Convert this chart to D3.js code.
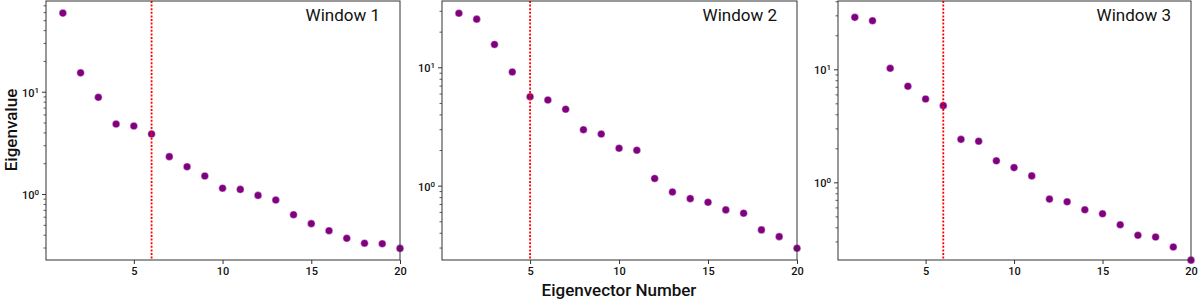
<!DOCTYPE html>
<html>
<head>
<meta charset="utf-8">
<script src="https://cdn.jsdelivr.net/npm/d3@7"></script>
<style>
  body { margin: 0; background: #fff; }
  svg text { font-family: Roboto, "DejaVu Sans", sans-serif; fill: #111; }
</style>
</head>
<body>
<div id="chart"></div>
<script>
// eigenvalue spectra, one array per window
var eigenNumbers = d3.range(1, 21);
var window1 = [58.7, 15.3, 8.82, 4.83, 4.62, 3.86, 2.32, 1.85, 1.50, 1.14,
               1.11, 0.97, 0.873, 0.628, 0.513, 0.438, 0.369, 0.330, 0.327, 0.294];
var window2 = [28.6, 25.5, 15.6, 9.13, 5.64, 5.29, 4.42, 2.97, 2.73, 2.07,
               1.99, 1.15, 0.885, 0.777, 0.724, 0.624, 0.585, 0.423, 0.371, 0.296];
var window3 = [28.8, 26.9, 10.2, 7.08, 5.46, 4.77, 2.40, 2.31, 1.55, 1.35,
               1.14, 0.711, 0.673, 0.572, 0.527, 0.421, 0.340, 0.328, 0.268, 0.205];
var titles = ["Window 1", "Window 2", "Window 3"];
var cutoffs = [6, 5, 6];
var xTicks = [5, 10, 15, 20];
var xDomain = [0.05, 20];
// log10 limits of each panel's y axis
var yLogLimits = [[-0.645, 1.887], [-0.628, 1.560], [-0.687, 1.604]];

var panels = [
  {left: 46, right: 400, values: window1},
  {left: 442, right: 797, values: window2},
  {left: 838, right: 1191, values: window3}
];
var plotTop = 1, plotBottom = 260;

const svg = d3.select("#chart").append("svg")
    .attr("width", 1200).attr("height", 302);

panels.forEach(function(p, i) {
    var x = d3.scaleLinear().domain(xDomain).range([p.left, p.right]);
    var y = d3.scaleLog()
        .domain([Math.pow(10, yLogLimits[i][0]), Math.pow(10, yLogLimits[i][1])])
        .range([plotBottom, plotTop]);

    var g = svg.append("g");

    // minor log ticks
    var minors = [];
    for (var e = -1; e <= 2; e++) {
        for (var m = 2; m <= 9; m++) {
            var v = m * Math.pow(10, e);
            if (v >= y.domain()[0] && v <= y.domain()[1]) minors.push(v);
        }
    }
    g.append("g")
        .attr("transform", "translate(" + p.left + ",0)")
        .call(d3.axisLeft(y).tickValues(minors).tickSize(2.5).tickFormat(""))
        .call(a => a.select(".domain").remove())
        .call(a => a.selectAll("line").attr("stroke", "#333").attr("stroke-width", 0.8));

    // major log ticks
    var majors = [1, 10, 100].filter(v => v >= y.domain()[0] && v <= y.domain()[1]);
    var yAx = g.append("g")
        .attr("transform", "translate(" + p.left + ",0)")
        .call(d3.axisLeft(y).tickValues(majors).tickSize(4).tickPadding(3).tickFormat(""))
        .call(a => a.select(".domain").remove())
        .call(a => a.selectAll("line").attr("stroke", "#333").attr("stroke-width", 1));
    yAx.selectAll(".tick").append("text")
        .attr("x", -7).attr("dy", "0.4em")
        .attr("text-anchor", "end")
        .style("font-size", "11px")
        .style("font-weight", 500)
        .each(function(d) {
            var t = d3.select(this);
            t.append("tspan").text("10");
            t.append("tspan").attr("dy", "-0.5em").style("font-size", "8px")
                .text(Math.round(Math.log10(d)));
        });

    // x axis
    g.append("g")
        .attr("transform", "translate(0," + plotBottom + ")")
        .call(d3.axisBottom(x).tickValues(xTicks).tickSize(4).tickPadding(3))
        .call(a => a.select(".domain").remove())
        .call(a => a.selectAll("line").attr("stroke", "#333"))
        .call(a => a.selectAll("text").style("font-size", "11px")
            .style("font-weight", 500).attr("fill", "#111"));

    // points
    g.selectAll("circle")
        .data(p.values)
        .enter().append("circle")
        .attr("cx", (d, j) => x(eigenNumbers[j]))
        .attr("cy", d => y(d))
        .attr("r", 3.8)
        .attr("fill", "#800080")
        .attr("stroke", "#fff")
        .attr("stroke-width", 0.4);

    // cutoff line
    g.append("line")
        .attr("x1", x(cutoffs[i])).attr("x2", x(cutoffs[i]))
        .attr("y1", plotTop).attr("y2", plotBottom)
        .attr("stroke", "#ff0000")
        .attr("stroke-width", 1.8)
        .attr("stroke-dasharray", "2,1.6");

    // frame
    g.append("rect")
        .attr("x", p.left).attr("y", plotTop)
        .attr("width", p.right - p.left).attr("height", plotBottom - plotTop)
        .attr("fill", "none")
        .attr("stroke", "#333")
        .attr("stroke-width", 1);

    // title
    g.append("text")
        .attr("x", p.right - 20).attr("y", 21)
        .attr("text-anchor", "end")
        .style("font-size", "17px")
        .style("font-weight", 400)
        .text(titles[i]);
});

svg.append("text")
    .attr("transform", "translate(17,130) rotate(-90)")
    .attr("text-anchor", "middle")
    .style("font-size", "17px")
    .style("font-weight", 500)
    .text("Eigenvalue");

svg.append("text")
    .attr("x", 619).attr("y", 296)
    .attr("text-anchor", "middle")
    .style("font-size", "17px")
    .style("font-weight", 500)
    .text("Eigenvector Number");
</script>
</body>
</html>
